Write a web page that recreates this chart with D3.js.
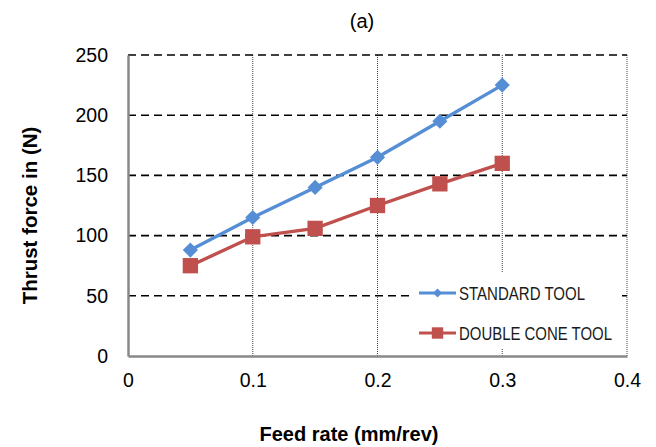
<!DOCTYPE html>
<html lang="en">
  <head>
    <meta charset="UTF-8" />
    <title>Thrust force vs feed rate</title>
    <style>
      html, body { margin: 0; background: #fff; }
      #chart { width: 656px; height: 447px; }
      text { font-family: "Liberation Sans", Arial, sans-serif; }
    </style>
    <script src="https://cdn.jsdelivr.net/npm/d3@7"></script>
  </head>
  <body>
    <div id="chart"></div>
    <script>
      // values
      const feedRates = [0.05, 0.1, 0.15, 0.2, 0.25, 0.3];
      const standardTool = [88, 115, 140, 165, 195, 225];
      const doubleConeTool = [75, 99, 106, 125, 143, 160];
      const xTicks = [0, 0.1, 0.2, 0.3, 0.4];
      const yTicks = [0, 50, 100, 150, 200, 250];
      const seriesNames = ["STANDARD TOOL", "DOUBLE CONE TOOL"];

      const W = 656, H = 447;
      const margin = { left: 128, right: 29, top: 55, bottom: 91 };

      const svg = d3.select("#chart").append("svg")
        .attr("width", W).attr("height", H);

      const x = d3.scaleLinear().domain([0, 0.4])
        .range([margin.left, W - margin.right]);
      const y = d3.scaleLinear().domain([0, 250])
        .range([H - margin.bottom, margin.top]);

      // vertical dotted grid
      svg.append("g").selectAll("line")
        .data(xTicks.filter(d => d > 0))
        .join("line")
        .attr("x1", d => x(d)).attr("x2", d => x(d))
        .attr("y1", y(250)).attr("y2", y(0))
        .attr("stroke", "#444").attr("stroke-width", 1)
        .attr("stroke-dasharray", "1,1");

      // horizontal dashed grid
      svg.append("g").selectAll("line")
        .data(yTicks.filter(d => d > 0))
        .join("line")
        .attr("x1", x(0)).attr("x2", x(0.4))
        .attr("y1", d => y(d)).attr("y2", d => y(d))
        .attr("stroke", "#000").attr("stroke-width", 1.6)
        .attr("stroke-dasharray", "8,5");

      // axes
      const yAxis = svg.append("g")
        .attr("transform", `translate(${x(0)},0)`)
        .call(d3.axisLeft(y).tickValues(yTicks).tickSize(0).tickPadding(20));
      const xAxis = svg.append("g")
        .attr("transform", `translate(0,${y(0)})`)
        .call(d3.axisBottom(x).tickValues(xTicks).tickSize(0).tickPadding(17)
          .tickFormat(d => d === 0 ? "0" : d3.format(".1f")(d)));
      [xAxis, yAxis].forEach(a => {
        a.select(".domain").attr("stroke", "#888").attr("stroke-width", 2.5);
        a.selectAll("text").attr("font-size", 19.5).attr("fill", "#000")
          .attr("font-family", "Liberation Sans, Arial, sans-serif");
      });

      // series
      const series = [
        { name: seriesNames[0], values: standardTool, color: "#558ed5", rot: 45, size: 115, lsize: 40 },
        { name: seriesNames[1], values: doubleConeTool, color: "#c0504d", rot: 0, size: 235, lsize: 130 }
      ];
      const line = d3.line().x((d, i) => x(feedRates[i])).y(d => y(d));

      series.forEach(s => {
        svg.append("path")
          .attr("d", line(s.values))
          .attr("fill", "none")
          .attr("stroke", s.color)
          .attr("stroke-width", 3.4);
        svg.append("g").selectAll("path")
          .data(s.values)
          .join("path")
          .attr("transform", (d, i) => `translate(${x(feedRates[i])},${y(d)}) rotate(${s.rot})`)
          .attr("d", d3.symbol(d3.symbolSquare, s.size))
          .attr("fill", s.color);
      });

      // legend
      const legend = svg.append("g");
      legend.append("rect")
        .attr("x", 412).attr("y", 273).attr("width", 206).attr("height", 76)
        .attr("fill", "#fff");
      const legendWidths = [126, 153];
      series.forEach((s, i) => {
        const ly = 293 + i * 40;
        legend.append("line")
          .attr("x1", 419).attr("x2", 456).attr("y1", ly).attr("y2", ly)
          .attr("stroke", s.color).attr("stroke-width", 3);
        legend.append("path")
          .attr("transform", `translate(437.5,${ly}) rotate(${s.rot})`)
          .attr("d", d3.symbol(d3.symbolSquare, s.lsize))
          .attr("fill", s.color);
        legend.append("text")
          .attr("x", 459).attr("y", ly + 7)
          .attr("font-size", 18)
          .attr("font-family", "DejaVu Sans Condensed, DejaVu Sans, sans-serif")
          .attr("textLength", legendWidths[i])
          .attr("lengthAdjust", "spacingAndGlyphs")
          .attr("fill", "#1a1a1a")
          .text(s.name);
      });

      // titles
      svg.append("text")
        .attr("x", 362).attr("y", 28)
        .attr("text-anchor", "middle")
        .attr("font-family", "Liberation Serif, Times New Roman, serif")
        .attr("font-size", 20)
        .text("(a)");
      svg.append("text")
        .attr("transform", `translate(37,${(y(0) + y(250)) / 2 + 10}) rotate(-90)`)
        .attr("text-anchor", "middle")
        .attr("font-size", 20.5).attr("font-weight", "bold")
        .text("Thrust force in (N)");
      svg.append("text")
        .attr("x", 349).attr("y", 441)
        .attr("text-anchor", "middle")
        .attr("font-size", 20).attr("font-weight", "bold")
        .text("Feed rate (mm/rev)");
    </script>
  </body>
</html>
